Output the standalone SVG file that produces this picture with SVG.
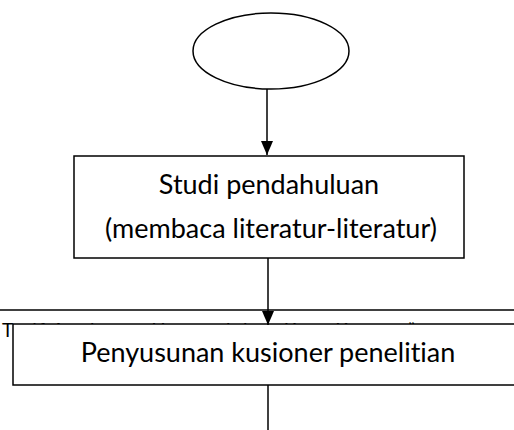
<svg xmlns="http://www.w3.org/2000/svg" width="514" height="430" viewBox="0 0 514 430">
<style>
.shape{fill:#fff;stroke:#000;stroke-width:1.5}
.lbl{font-family:Lato,"Liberation Sans",sans-serif;font-size:27px;fill:#000;text-anchor:middle;font-variant-ligatures:none}
.conn{stroke:#000;stroke-width:1.5;fill:none}
</style>
<defs>
<marker id="ah" viewBox="0 0 14 12" refX="14" refY="6" markerWidth="14" markerHeight="12" markerUnits="userSpaceOnUse" orient="auto">
<path d="M0,0 L14,6 L0,12 Z" fill="#000"/>
</marker>
</defs>
<rect width="514" height="430" fill="#fff"/>
<line x1="0" y1="310" x2="514" y2="310" stroke="#000" stroke-width="1.6"/>
<text x="2" y="337" font-family="Lato,'Liberation Sans',sans-serif" font-size="19" textLength="413" lengthAdjust="spacing" style="font-variant-ligatures:none">Tarif Angkutan Umum dalam Kota Kupang”</text>
<g id="start">
<ellipse class="shape" cx="271" cy="51" rx="78" ry="38"/>
</g>
<g id="studi">
<rect class="shape" x="74" y="156" width="390" height="102"/>
<text class="lbl" x="269" y="194">Studi pendahuluan</text>
<text class="lbl" x="271" y="238">(membaca literatur-literatur)</text>
</g>
<g id="penyusunan">
<rect class="shape" x="13" y="324" width="510" height="61"/>
<text class="lbl" x="268" y="362">Penyusunan kusioner penelitian</text>
</g>
<g id="connectors">
<line class="conn" x1="267" y1="89" x2="267" y2="155" marker-end="url(#ah)"/>
<line class="conn" x1="268" y1="258" x2="268" y2="325" marker-end="url(#ah)"/>
<line class="conn" x1="268" y1="385" x2="268" y2="430"/>
</g>
</svg>
